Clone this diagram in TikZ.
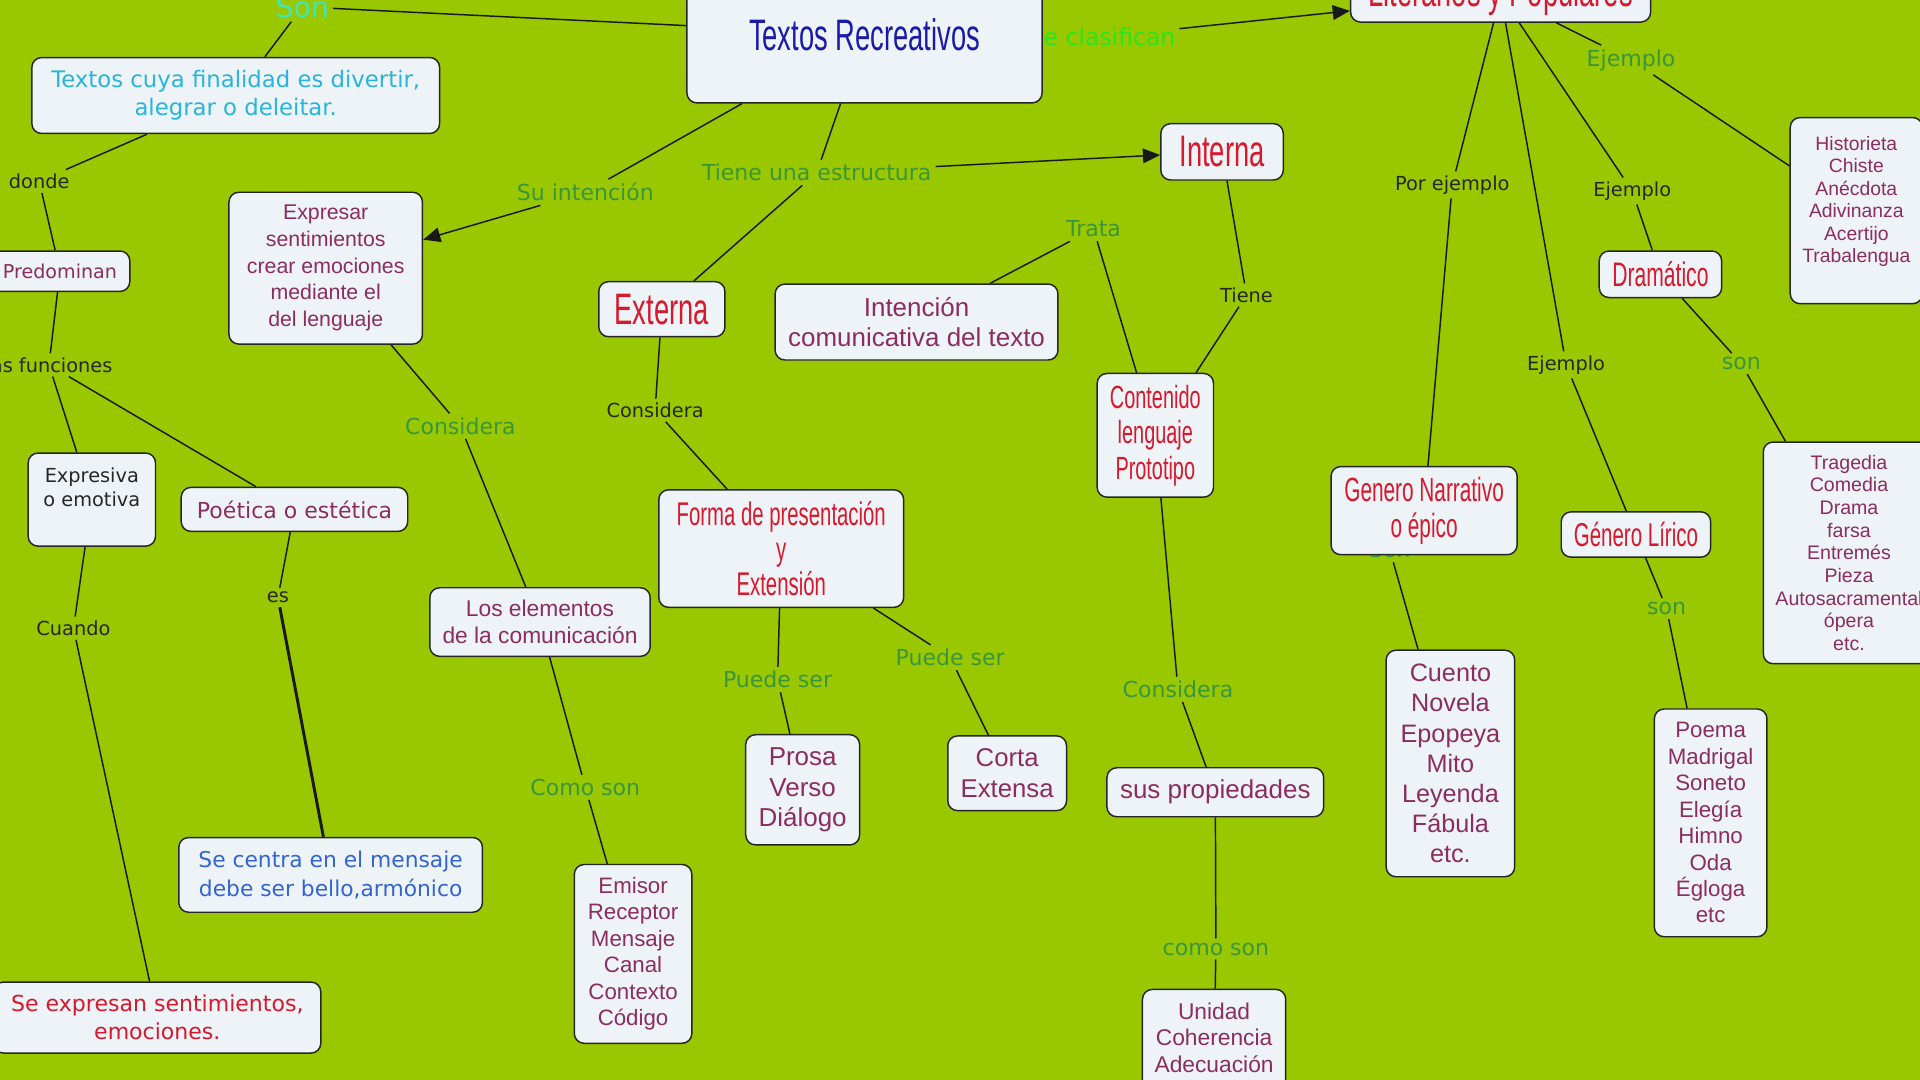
\documentclass[tikz,border=0pt]{standalone}
\usepackage{fontspec}
\setmainfont{DejaVu Sans}
\newfontfamily\arialfont{Liberation Sans}
\newfontfamily\agencyfont[FakeStretch=0.62]{Liberation Sans}
\usetikzlibrary{arrows.meta}
\definecolor{mapgreen}{RGB}{153,200,0}
\definecolor{boxfill}{RGB}{238,243,248}
\definecolor{lblgreen}{RGB}{58,150,60}
\definecolor{brightgreen}{RGB}{40,230,30}
\definecolor{aqua}{RGB}{60,230,190}
\definecolor{txtpurple}{RGB}{140,45,95}
\definecolor{txtred}{RGB}{215,25,45}
\definecolor{darkblue}{RGB}{25,25,170}
\definecolor{txtcyan}{RGB}{40,180,220}
\definecolor{txtblue}{RGB}{50,100,210}
\tikzset{
box/.style={draw=black!85, fill=boxfill, rounded corners=4pt, line width=0.6pt, align=center, inner sep=1pt},
boxsize/.style 2 args={minimum width=#1*0.5pt, minimum height=#2*0.5pt},
lbl/.style={inner sep=1.5pt, align=center},
green lbl/.style={lbl, text=lblgreen, font=\fontsize{9}{10}\selectfont},
black lbl/.style={lbl, text=black!85, font=\fontsize{7.9}{9}\selectfont},
verd/.style 2 args={font=\fontsize{#1}{#2}\selectfont},
ari/.style 2 args={text=txtpurple, font=\arialfont\fontsize{#1}{#2}\selectfont},
agency/.style 2 args={text=txtred, font=\agencyfont\fontsize{#1}{#2}\selectfont},
link/.style={line width=0.6pt, draw=black!90},
arrowlink/.style={link, -{Triangle[length=7pt,width=6pt]}}
}
\begin{document}
\begin{tikzpicture}[x=0.5pt, y=-0.5pt]
\fill[mapgreen] (0,0) rectangle (1568,882);
\useasboundingbox (0,0) rectangle (1568,882);
% the boxes
\node[lbl, text=brightgreen, font=\fontsize{9.6}{11}\selectfont] (clasifican) at (900,30) {Se clasifican};
\node[box, boxsize={290}{112}, agency={18}{21}, text=darkblue] (textos) at (706,28) {Textos Recreativos};
\node[box, boxsize={245}{44}, agency={18}{21}] (literarios) at (1225.5,-4) {Literarios y Populares};
\node[lbl, text=aqua, font=\fontsize{11.5}{13}\selectfont, anchor=base] (son) at (247,14) {Son};
\node[box, boxsize={333}{62}, verd={9.3}{11.5}, text=txtcyan] (cuya) at (192.5,78) {Textos cuya finalidad es divertir,\\alegrar o deleitar.};
\node[black lbl] (donde) at (32,148) {donde};
\node[box, boxsize={114}{33}, verd={7.8}{10}, text=txtpurple] (predominan) at (49,221.5) {Predominan};
\node[black lbl] (funciones) at (40,298) {las funciones};
\node[box, boxsize={104}{76}, verd={7.9}{10}, text=black!85] (expresiva) at (75,408) {Expresiva\\o emotiva\\~};
\node[box, boxsize={185}{36}, verd={9}{11}, text=txtpurple] (poetica) at (240.5,416) {Poética o estética};
\node[black lbl] (cuando) at (60,513) {Cuando};
\node[box, boxsize={267}{58}, verd={9}{11.5}, text=txtred] (expresan) at (128.5,831) {Se expresan sentimientos,\\emociones.};
\node[black lbl] (es) at (227,488) {es};
\node[box, boxsize={248}{61}, verd={8.9}{11.5}, text=txtblue] (centra) at (270,714.5) {Se centra en el mensaje\\debe ser bello,armónico};
\node[green lbl] (suint) at (478,157) {Su intención};
\node[box, boxsize={158}{124}, ari={8.7}{10.9}] (expresar) at (266,219) {Expresar\\sentimientos\\crear emociones\\mediante el\\del lenguaje};
\node[green lbl] (consid1) at (376,348) {Considera};
\node[box, boxsize={180}{56}, ari={9.3}{11}] (elementos) at (441,508) {Los elementos\\de la comunicación};
\node[green lbl] (comoson) at (478,643) {Como son};
\node[box, boxsize={96}{146}, ari={9.1}{10.8}] (emisor) at (517,779) {Emisor\\Receptor\\Mensaje\\Canal\\Contexto\\Código};
\node[green lbl] (estructura) at (667,141) {Tiene una estructura};
\node[box, boxsize={100}{46}, agency={18}{21}] (interna) at (998,124) {Interna};
\node[box, boxsize={103}{45}, agency={18}{21}] (externa) at (540.5,252.5) {Externa};
\node[black lbl] (consid2) at (535,335) {Considera};
\node[box, boxsize={200}{96}, agency={13.4}{14.3}] (forma) at (638,448) {Forma de presentación\\y\\Extensión};
\node[green lbl] (puede1) at (635,555) {Puede ser};
\node[green lbl] (puede2) at (776,537) {Puede ser};
\node[box, boxsize={93}{90}, ari={10.6}{12.5}] (prosa) at (655.5,645) {Prosa\\Verso\\Diálogo};
\node[box, boxsize={97}{61}, ari={10.5}{12.5}] (corta) at (822.5,631.5) {Corta\\Extensa};
\node[green lbl] (trata) at (893,187) {Trata};
\node[box, boxsize={231}{62}, ari={10.6}{12.5}] (intencion) at (748.5,263) {Intención\\comunicativa del texto};
\node[black lbl] (tiene) at (1018,241) {Tiene};
\node[box, boxsize={95}{101}, agency={13.1}{14.5}] (contenido) at (943.5,355.5) {Contenido\\lenguaje\\Prototipo};
\node[green lbl] (consid3) at (962,563) {Considera};
\node[box, boxsize={177}{40}, ari={10.6}{12.5}] (propiedades) at (992.5,647) {sus propiedades};
\node[green lbl] (comoson2) at (993,775) {como son};
\node[box, boxsize={117}{100}, ari={9.3}{10.75}] (unidad) at (991.5,858) {Unidad\\Coherencia\\Adecuación\\~};
\node[green lbl] (ejemplo1) at (1332,49) {Ejemplo};
\node[box, boxsize={108}{152}, ari={7.9}{9.2}] (historieta) at (1516,172) {Historieta\\Chiste\\Anécdota\\Adivinanza\\Acertijo\\Trabalengua\\~};
\node[black lbl] (porejemplo) at (1186,151) {Por ejemplo};
\node[black lbl] (ejemplo2) at (1333,156) {Ejemplo};
\node[box, boxsize={100}{38}, agency={13.9}{14.5}] (dramatico) at (1356,224) {Dramático};
\node[green lbl] (son2) at (1422,297) {son};
\node[box, boxsize={140}{181}, ari={8}{9.25}] (tragedia) at (1510,451.5) {Tragedia\\Comedia\\Drama\\farsa\\Entremés\\Pieza\\Autosacramental\\ópera\\etc.};
\node[black lbl] (ejemplo3) at (1279,298) {Ejemplo};
\node[green lbl] (son3) at (1135,449) {Son};
\node[box, boxsize={152}{72}, agency={13.7}{14.5}] (narrativo) at (1163,417) {Genero Narrativo\\o épico};
\node[box, boxsize={122}{37}, agency={13.5}{14}] (lirico) at (1336,436.5) {Género Lírico};
\node[green lbl] (son4) at (1361,497) {son};
\node[box, boxsize={105}{185}, ari={10.3}{12.3}] (cuento) at (1184.5,623.5) {Cuento\\Novela\\Epopeya\\Mito\\Leyenda\\Fábula\\etc.};
\node[box, boxsize={92}{186}, ari={9.1}{10.8}] (poema) at (1397,672) {Poema\\Madrigal\\Soneto\\Elegía\\Himno\\Oda\\Égloga\\etc};
% the links
\foreach \a/\b in {son/textos, son/cuya, cuya/donde, donde/predominan, predominan/funciones,
  funciones/expresiva, funciones/poetica, expresiva/cuando, cuando/expresan, poetica/es,
  textos/suint, expresar/consid1, consid1/elementos, elementos/comoson, comoson/emisor,
  textos/estructura, estructura/externa, externa/consid2, consid2/forma, forma/puede1,
  puede1/prosa, forma/puede2, puede2/corta, interna/tiene, tiene/contenido, trata/intencion,
  trata/contenido, contenido/consid3, consid3/propiedades, propiedades/comoson2, comoson2/unidad,
  literarios/ejemplo1, ejemplo1/historieta, literarios/porejemplo, porejemplo/narrativo,
  literarios/ejemplo2, ejemplo2/dramatico, dramatico/son2, son2/tragedia, literarios/ejemplo3,
  ejemplo3/lirico, son3/cuento, lirico/son4, son4/poema}
  \draw[link] (\a) -- (\b);
\draw[link, line width=1.2pt] (es) -- (centra);
% the arrows
\draw[arrowlink] (suint) -- (expresar);
\draw[arrowlink] (estructura) -- (interna);
\draw[arrowlink] (clasifican) -- (literarios);
\end{tikzpicture}
\end{document}
